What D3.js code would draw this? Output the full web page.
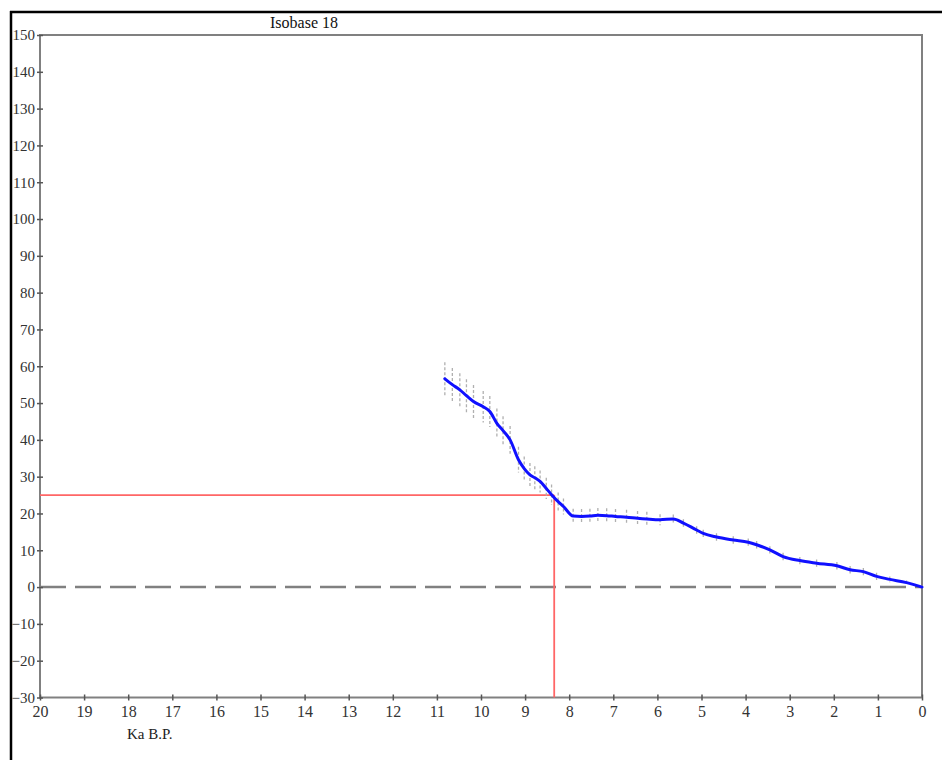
<!DOCTYPE html>
<html>
<head>
<meta charset="utf-8">
<script src="https://cdn.jsdelivr.net/npm/d3@7"></script>
<style>
  html, body { margin: 0; padding: 0; background: #fff; }
  svg { display: block; }
  text { font-family: "Liberation Serif", "DejaVu Serif", serif; }
</style>
</head>
<body>
<svg id="chart" width="942" height="760"></svg>
<script>
// ---- Data ----
const ages = [10.82, 10.65, 10.48, 10.33, 10.17, 9.95, 9.80, 9.64, 9.50, 9.34, 9.15, 9.02, 8.89, 8.78, 8.66, 8.52, 8.40, 8.25, 8.13, 7.91,
  7.72, 7.53, 7.35, 7.15, 6.95, 6.70, 6.45, 6.24, 5.94, 5.64, 5.41, 5.11, 4.96, 4.66, 4.28, 3.94, 3.75, 3.45, 3.15, 2.77,
  2.39, 1.93, 1.63, 1.33, 1.03, 0.73, 0.35, 0.0];
const uplift = [56.6, 55.0, 53.6, 52.0, 50.4, 49.0, 47.7, 44.5, 42.5, 40.0, 34.6, 32.2, 30.5, 29.7, 28.7, 26.8, 25.1, 23.2, 21.9, 19.3,
  19.2, 19.3, 19.5, 19.4, 19.2, 19.0, 18.7, 18.5, 18.3, 18.5, 17.4, 15.5, 14.6, 13.6, 12.8, 12.2, 11.5, 10.1, 8.3, 7.2,
  6.5, 5.8, 4.7, 4.2, 2.9, 2.1, 1.2, 0.0];
const errors = [4.5, 4.5, 4.5, 4.5, 4.5, 4.3, 4.2, 4.0, 3.9, 3.8, 3.5, 3.3, 3.2, 3.1, 3.0, 2.9, 2.8, 2.5, 2.2, 2.0,
  2.0, 2.0, 2.0, 2.0, 2.0, 2.0, 2.0, 2.0, 1.5, 1.2, 1.0, 1.0, 1.0, 1.0, 1.0, 1.0, 1.0, 1.0, 1.0, 1.0,
  1.0, 1.0, 1.0, 1.0, 1.0, 0.8, 0.6, 0.4];
const xTicks = d3.range(0, 21, 1);
const yTicks = d3.range(-30, 151, 10);
const refAge = [8.34];
const refUplift = [25];
const titleText = "Isobase 18";
const xLabel = "Ka B.P.";

// ---- Scales ----
const svg = d3.select("#chart");
const x = d3.scaleLinear().domain([20, 0]).range([40, 922]);
const y = d3.scaleLinear().domain([-30, 150]).range([697.5, 35]);

// outer black frame (left and top)
svg.append("line").attr("x1", 11).attr("x2", 11).attr("y1", 11).attr("y2", 760)
  .attr("stroke", "#000").attr("stroke-width", 2.5);
svg.append("line").attr("x1", 10).attr("x2", 942).attr("y1", 12).attr("y2", 12)
  .attr("stroke", "#000").attr("stroke-width", 2.5);

// plot frame
svg.append("rect").attr("x", x(20)).attr("y", y(150))
  .attr("width", x(0) - x(20)).attr("height", y(-30) - y(150))
  .attr("fill", "none").attr("stroke", "#808080").attr("stroke-width", 2);

// zero dashed line
svg.append("line").attr("x1", x(20)).attr("x2", x(0)).attr("y1", y(0)).attr("y2", y(0))
  .attr("stroke", "#808080").attr("stroke-width", 2.5).attr("stroke-dasharray", "26,9");

// reference red lines
svg.append("line").attr("x1", x(20)).attr("x2", x(refAge[0]))
  .attr("y1", y(refUplift[0])).attr("y2", y(refUplift[0]))
  .attr("stroke", "#ff6666").attr("stroke-width", 1.8);
svg.append("line").attr("x1", x(refAge[0])).attr("x2", x(refAge[0]))
  .attr("y1", y(refUplift[0])).attr("y2", y(-30))
  .attr("stroke", "#ff6666").attr("stroke-width", 1.8);

// y axis
const yAxis = d3.axisLeft(y).tickValues(yTicks).tickSize(5).tickPadding(4).tickFormat(d3.format("d"));
const gy = svg.append("g").attr("transform", `translate(${x(20)},0)`).call(yAxis);
gy.select(".domain").remove();
gy.selectAll(".tick line").attr("x2", 3).attr("x1", -3).attr("stroke", "#555").attr("stroke-width", 1.5);
gy.selectAll(".tick text").attr("x", -5).attr("font-size", 15).attr("fill", "#333")
  .attr("font-family", "Liberation Serif, serif");

// x axis
const xAxis = d3.axisBottom(x).tickValues(xTicks).tickSize(5).tickPadding(6).tickFormat(d3.format("d"));
const gx = svg.append("g").attr("transform", `translate(0,${y(-30)})`).call(xAxis);
gx.select(".domain").remove();
gx.selectAll(".tick line").attr("y1", -3).attr("y2", 3).attr("stroke", "#555").attr("stroke-width", 1.5);
gx.selectAll(".tick text").attr("y", 8).attr("font-size", 16).attr("fill", "#333")
  .attr("font-family", "Liberation Serif, serif");

// error bars
const pts = ages.map((a, i) => ({ a, u: uplift[i], e: errors[i] }));
svg.append("g").selectAll("line").data(pts).join("line")
  .attr("x1", d => x(d.a)).attr("x2", d => x(d.a))
  .attr("y1", d => y(d.u + d.e)).attr("y2", d => y(d.u - d.e))
  .attr("stroke", "#b0b0b0").attr("stroke-width", 1.3).attr("stroke-dasharray", "3,2");

// curve
const line = d3.line().x(d => x(d.a)).y(d => y(d.u)).curve(d3.curveMonotoneX);
svg.append("path").datum(pts).attr("d", line)
  .attr("fill", "none").attr("stroke", "#1010ff").attr("stroke-width", 3)
  .attr("stroke-linejoin", "round").attr("stroke-linecap", "round");

// title and x label
svg.append("text").attr("x", 304).attr("y", 28).attr("text-anchor", "middle")
  .attr("font-size", 16).attr("fill", "#111").text(titleText);
svg.append("text").attr("x", 127).attr("y", 739)
  .attr("font-size", 15).attr("fill", "#222").text(xLabel);
</script>
</body>
</html>
